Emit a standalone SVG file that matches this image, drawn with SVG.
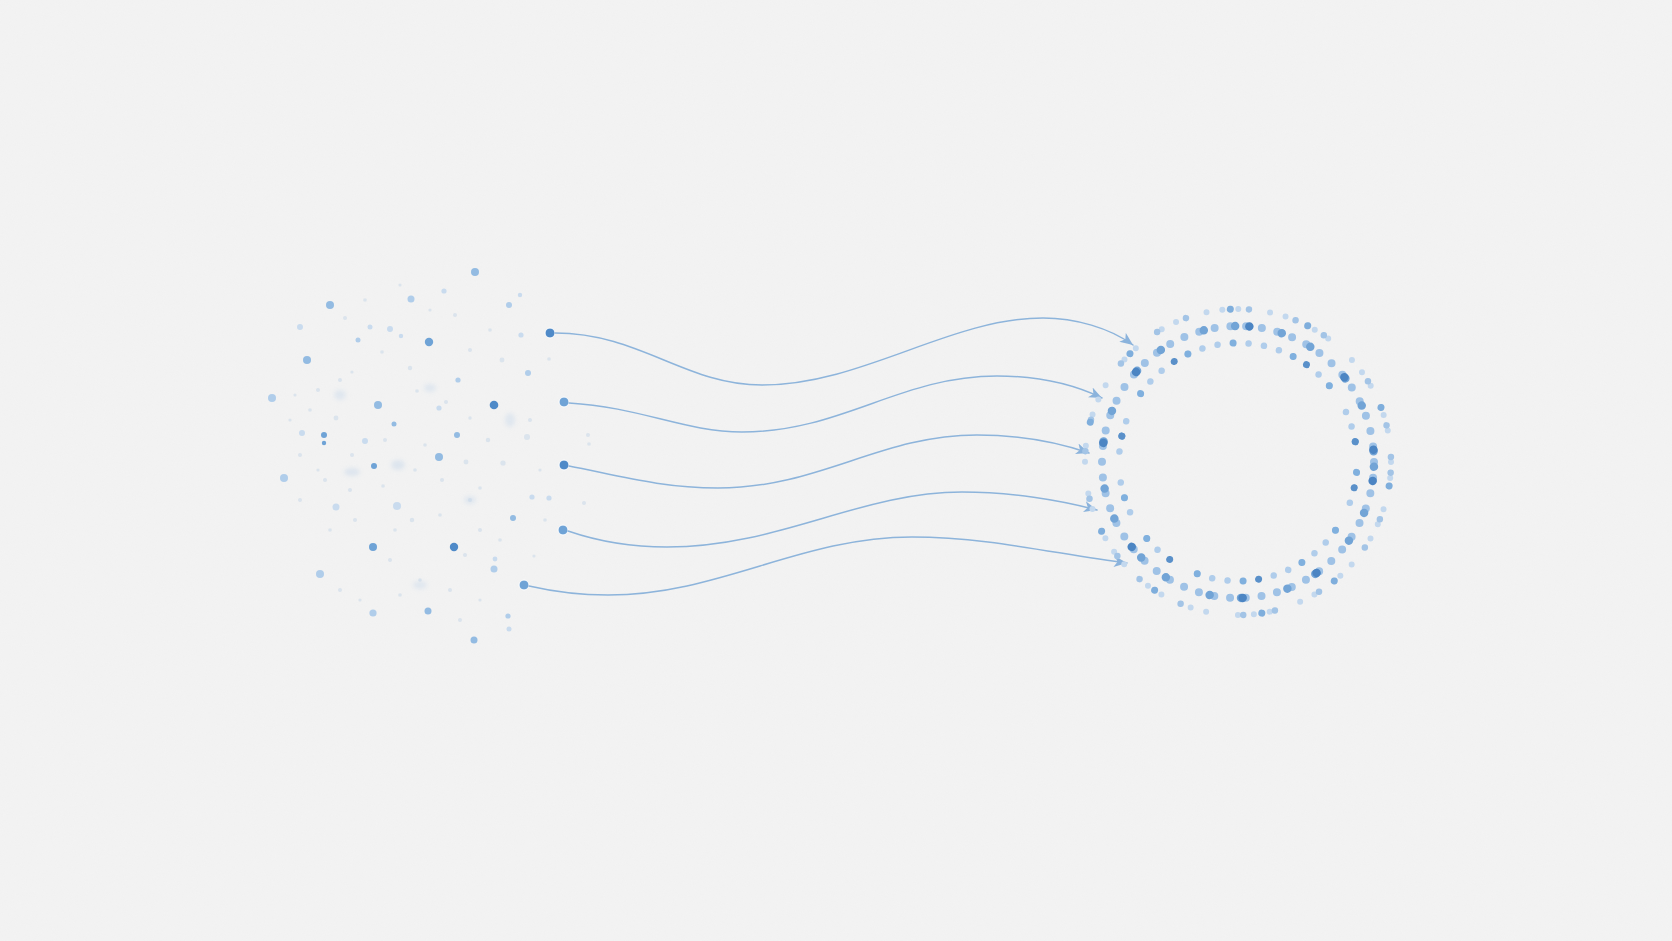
<svg xmlns="http://www.w3.org/2000/svg" width="1672" height="941" viewBox="0 0 1672 941">
<defs>
<style>
.c1{fill:#4f8ac8}
.c2{fill:#6fa3d6}
.c3{fill:#93bbe2}
.c4{fill:#b0cdea}
.c5{fill:#c9dbee}
.f{fill:#c3d5e8;opacity:.5}
.start{stroke:#ffffff;stroke-width:1}
.conn{fill:none;stroke:#8db4db;stroke-width:1.5;stroke-linecap:round;marker-end:url(#arrow)}
.ring{fill:none;stroke-linecap:round}
</style>
<marker id="arrow" markerUnits="userSpaceOnUse" markerWidth="16" markerHeight="12" refX="13" refY="6" orient="auto">
<path d="M0,0.5 L13,6 L0,11.5 L3.5,6 Z" fill="#8bb3dc"/>
</marker>
<filter id="paper" x="0" y="0" width="100%" height="100%">
<feTurbulence type="fractalNoise" baseFrequency="0.9" numOctaves="2" seed="3"/>
<feColorMatrix type="matrix" values="0 0 0 0 0.5  0 0 0 0 0.5  0 0 0 0 0.5  0 0 0 0.5 0"/>
</filter>
<filter id="soft"><feGaussianBlur stdDeviation="2"/></filter>
</defs>
<g id="background">
<rect width="1672" height="941" fill="#f3f3f3"/>
<rect width="1672" height="941" filter="url(#paper)" opacity="0.07"/>
</g>
<g id="scatter-cluster">
<g filter="url(#soft)" opacity="0.5">
<ellipse cx="398" cy="465" rx="7" ry="5" fill="#c8d8ea"/>
<ellipse cx="352" cy="472" rx="8" ry="4" fill="#c8d8ea"/>
<ellipse cx="430" cy="388" rx="6" ry="4" fill="#cddcec"/>
<ellipse cx="510" cy="420" rx="5" ry="7" fill="#cddcec"/>
<ellipse cx="340" cy="395" rx="6" ry="5" fill="#cddcec"/>
<ellipse cx="470" cy="500" rx="6" ry="4" fill="#cddcec"/>
<ellipse cx="420" cy="585" rx="7" ry="4" fill="#cddcec"/>
</g>
<circle class="f" cx="345" cy="318" r="2"/><circle class="f" cx="382" cy="352" r="1.8"/><circle class="f" cx="410" cy="368" r="2.2"/><circle class="f" cx="352" cy="372" r="1.6"/><circle class="f" cx="318" cy="390" r="2"/><circle class="f" cx="336" cy="418" r="2.4"/><circle class="f" cx="417" cy="391" r="1.8"/><circle class="f" cx="446" cy="402" r="2"/><circle class="f" cx="470" cy="418" r="1.7"/><circle class="f" cx="488" cy="440" r="2.2"/><circle class="f" cx="352" cy="455" r="2"/><circle class="f" cx="415" cy="470" r="1.8"/><circle class="f" cx="442" cy="480" r="2"/><circle class="f" cx="466" cy="462" r="2.4"/><circle class="f" cx="480" cy="488" r="1.8"/><circle class="f" cx="300" cy="455" r="2"/><circle class="f" cx="318" cy="470" r="1.6"/><circle class="f" cx="350" cy="490" r="2"/><circle class="f" cx="383" cy="486" r="1.8"/><circle class="f" cx="412" cy="520" r="2.2"/><circle class="f" cx="440" cy="515" r="1.8"/><circle class="f" cx="470" cy="500" r="2"/><circle class="f" cx="300" cy="500" r="2"/><circle class="f" cx="330" cy="530" r="1.8"/><circle class="f" cx="355" cy="520" r="2"/><circle class="f" cx="390" cy="560" r="2"/><circle class="f" cx="420" cy="580" r="1.8"/><circle class="f" cx="450" cy="590" r="2"/><circle class="f" cx="480" cy="600" r="1.6"/><circle class="f" cx="340" cy="590" r="2"/><circle class="f" cx="360" cy="600" r="1.6"/><circle class="f" cx="400" cy="595" r="1.8"/><circle class="f" cx="460" cy="620" r="2"/><circle class="f" cx="310" cy="410" r="1.8"/><circle class="f" cx="290" cy="420" r="1.6"/><circle class="f" cx="340" cy="380" r="2"/><circle class="f" cx="385" cy="440" r="2"/><circle class="f" cx="425" cy="445" r="1.8"/><circle class="f" cx="470" cy="350" r="2"/><circle class="f" cx="490" cy="330" r="1.8"/><circle class="f" cx="455" cy="315" r="2"/><circle class="f" cx="430" cy="310" r="1.6"/><circle class="f" cx="365" cy="300" r="1.8"/><circle class="f" cx="400" cy="285" r="1.6"/><circle class="f" cx="480" cy="530" r="2"/><circle class="f" cx="500" cy="540" r="1.8"/><circle class="f" cx="530" cy="420" r="2"/><circle class="f" cx="540" cy="470" r="1.6"/><circle class="f" cx="545" cy="520" r="1.8"/><circle class="f" cx="465" cy="555" r="2"/><circle class="f" cx="395" cy="530" r="1.8"/><circle class="f" cx="325" cy="480" r="2"/><circle class="f" cx="295" cy="395" r="1.6"/><circle class="f" cx="588" cy="435" r="2"/><circle class="f" cx="589" cy="444" r="1.8"/><circle class="f" cx="584" cy="503" r="2"/><circle class="f" cx="534" cy="556" r="1.6"/><circle class="f" cx="549" cy="359" r="1.8"/><circle class="f" cx="502" cy="360" r="2.4"/><circle class="f" cx="503" cy="463" r="2.6"/><circle class="f" cx="527" cy="437" r="3"/>
<circle class="c3" cx="475" cy="272" r="4"/>
<circle class="c3" cx="330" cy="305" r="4"/>
<circle class="c4" cx="411" cy="299" r="3.5"/>
<circle class="c5" cx="444" cy="291" r="2.6"/>
<circle class="c4" cx="509" cy="305" r="3"/>
<circle class="c5" cx="520" cy="295" r="2.2"/>
<circle class="c5" cx="300" cy="327" r="3"/>
<circle class="c5" cx="390" cy="329" r="3"/>
<circle class="c5" cx="370" cy="327" r="2.5"/>
<circle class="c4" cx="358" cy="340" r="2.5"/>
<circle class="c2" cx="429" cy="342" r="4.2"/>
<circle class="c5" cx="401" cy="336" r="2.2"/>
<circle class="c5" cx="521" cy="335" r="2.6"/>
<circle class="c3" cx="307" cy="360" r="4"/>
<circle class="c4" cx="528" cy="373" r="3"/>
<circle class="c4" cx="458" cy="380" r="2.6"/>
<circle class="c4" cx="272" cy="398" r="4"/>
<circle class="c3" cx="378" cy="405" r="4"/>
<circle class="c1" cx="494" cy="405" r="4.3"/>
<circle class="c5" cx="439" cy="408" r="2.6"/>
<circle class="c3" cx="394" cy="424" r="2.5"/>
<circle class="c2" cx="324" cy="435" r="3"/>
<circle class="c3" cx="457" cy="435" r="3"/>
<circle class="c2" cx="324" cy="443" r="2.2"/>
<circle class="c5" cx="365" cy="441" r="3"/>
<circle class="c5" cx="302" cy="433" r="3"/>
<circle class="c3" cx="439" cy="457" r="4"/>
<circle class="c2" cx="374" cy="466" r="3"/>
<circle class="c4" cx="284" cy="478" r="4"/>
<circle class="c5" cx="397" cy="506" r="4"/>
<circle class="c5" cx="336" cy="507" r="3.5"/>
<circle class="c5" cx="532" cy="497" r="2.6"/>
<circle class="c5" cx="549" cy="498" r="2.6"/>
<circle class="c3" cx="513" cy="518" r="3"/>
<circle class="c2" cx="373" cy="547" r="4"/>
<circle class="c1" cx="454" cy="547" r="4.2"/>
<circle class="c5" cx="495" cy="559" r="2.4"/>
<circle class="c4" cx="494" cy="569" r="3.5"/>
<circle class="c4" cx="320" cy="574" r="4"/>
<circle class="c4" cx="373" cy="613" r="3.6"/>
<circle class="c3" cx="428" cy="611" r="3.5"/>
<circle class="c4" cx="508" cy="616" r="2.6"/>
<circle class="c5" cx="509" cy="629" r="2.5"/>
<circle class="c3" cx="474" cy="640" r="3.5"/>
<circle class="c1 start" cx="550" cy="333" r="5"/>
<circle class="c2 start" cx="564" cy="402" r="5"/>
<circle class="c1 start" cx="564" cy="465" r="5"/>
<circle class="c2 start" cx="563" cy="530" r="5"/>
<circle class="c2 start" cx="524" cy="585" r="5"/>
</g>
<g id="connectors">
<path class="conn" d="M555,333 C640,333 685,385 762,385 C862,385 950,318 1043,318 C1075,318 1110,328 1133,345"/>
<path class="conn" d="M569,403 C640,407 685,432 742,432 C842,432 900,376 997,376 C1040,376 1075,385 1102,398"/>
<path class="conn" d="M569,466 C620,476 662,488 718,488 C820,488 880,435 977,435 C1025,435 1060,443 1089,453"/>
<path class="conn" d="M568,531 C600,542 630,547 667,547 C780,547 860,492 962,492 C1010,492 1060,500 1097,510"/>
<path class="conn" d="M529,586 C555,592 580,595 608,595 C720,595 800,537 912,537 C990,537 1060,555 1127,563"/>
</g>
<g id="ring">
<g transform="translate(1238,462)">
<circle class="ring" r="153" stroke="#c3d8ee" stroke-width="6" stroke-dasharray="0 16.022 0 32.044 0 16.022 0 16.022 0 32.044 0 16.022 0 32.044"/>
<circle class="ring" r="153" stroke="#a3c4e6" stroke-width="6.5" stroke-dasharray="0 48.066 0 32.044 0 64.088" transform="rotate(4)"/>
<circle class="ring" r="153" stroke="#7faedc" stroke-width="7" stroke-dasharray="0 112.154 0 80.11" transform="rotate(9)"/>
<circle class="ring" r="136" stroke="#9fc2e6" stroke-width="8" stroke-dasharray="0 15.824"/>
<circle class="ring" r="136" stroke="#72a4d6" stroke-width="8.5" stroke-dasharray="0 47.472 0 31.648" transform="rotate(2)"/>
<circle class="ring" r="136" stroke="#4c85c3" stroke-width="8.5" stroke-dasharray="0 110.768 0 79.12 0 126.592" transform="rotate(8)"/>
<circle class="ring" r="119" stroke="#b0cdeb" stroke-width="6.5" stroke-dasharray="0 15.577 0 15.577 0 31.154" transform="rotate(5)"/>
<circle class="ring" r="119" stroke="#80b0de" stroke-width="7" stroke-dasharray="0 62.308 0 46.731" transform="rotate(5)"/>
<circle class="ring" r="119" stroke="#5a90c9" stroke-width="7" stroke-dasharray="0 140.193 0 93.462" transform="rotate(12.5)"/>
</g>
</g>
</svg>
